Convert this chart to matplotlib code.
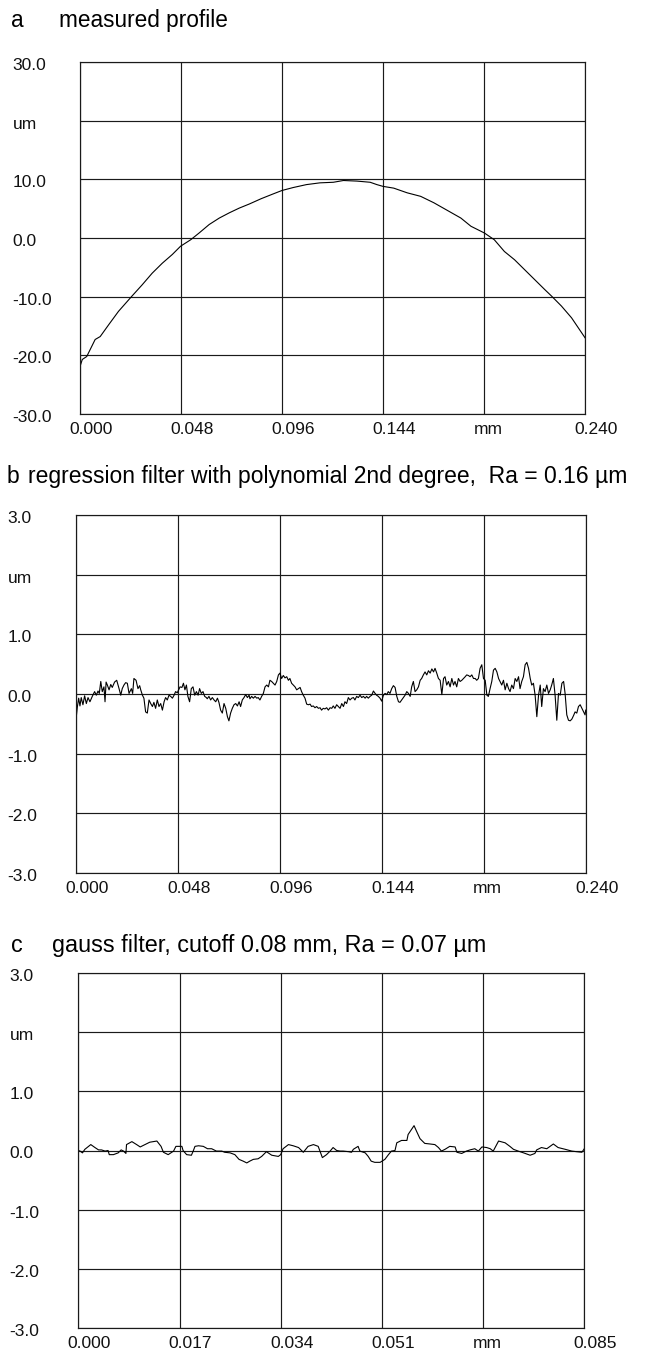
import matplotlib
matplotlib.use("Agg")
import matplotlib.pyplot as plt
from matplotlib.transforms import ScaledTranslation

plt.rcParams["font.family"] = ["Liberation Sans", "DejaVu Sans"]

# (a) measured profile, mm / um
A_X = [0.0000, 0.0011, 0.0032, 0.0072, 0.0096, 0.0136, 0.0183, 0.0247, 0.0295, 0.0343,
       0.0391, 0.0439, 0.0478, 0.0526, 0.0566, 0.0614, 0.0662, 0.0710, 0.0757, 0.0805,
       0.0861, 0.0917, 0.0960, 0.1013, 0.1076, 0.1140, 0.1204, 0.1252, 0.1316, 0.1379,
       0.1411, 0.1440, 0.1491, 0.1555, 0.1619, 0.1682, 0.1746, 0.1810, 0.1858, 0.1922,
       0.1969, 0.2017, 0.2065, 0.2113, 0.2161, 0.2209, 0.2241, 0.2288, 0.2336, 0.2368,
       0.2400]
A_Y = [-21.9, -20.7, -20.2, -17.3, -16.8, -14.8, -12.5, -9.9, -8.0, -6.0,
       -4.3, -2.8, -1.4, -0.3, 0.85, 2.3, 3.4, 4.3, 5.1, 5.8,
       6.7, 7.5, 8.1, 8.6, 9.1, 9.4, 9.5, 9.8, 9.7, 9.5,
       9.1, 8.8, 8.5, 7.7, 7.1, 6.0, 4.7, 3.4, 2.0, 0.85,
       -0.3, -2.3, -3.7, -5.4, -7.1, -8.8, -9.9, -11.6, -13.6, -15.3,
       -17.0]

# (b) regression filter residual, mm / um
B_X = [0.0000, 0.0008, 0.0014, 0.0020, 0.0026, 0.0034, 0.0042, 0.0050, 0.0058, 0.0067,
       0.0078, 0.0089, 0.0097, 0.0105, 0.0111, 0.0118, 0.0125, 0.0133, 0.0138, 0.0143,
       0.0149, 0.0157, 0.0165, 0.0172, 0.0183, 0.0193, 0.0204, 0.0212, 0.0219, 0.0227,
       0.0235, 0.0243, 0.0251, 0.0262, 0.0268, 0.0274, 0.0284, 0.0293, 0.0301, 0.0306,
       0.0314, 0.0321, 0.0329, 0.0337, 0.0345, 0.0353, 0.0361, 0.0368, 0.0376, 0.0384,
       0.0392, 0.0400, 0.0408, 0.0416, 0.0423, 0.0431, 0.0439, 0.0447, 0.0455, 0.0463,
       0.0470, 0.0478, 0.0491, 0.0500, 0.0507, 0.0514, 0.0521, 0.0528, 0.0536, 0.0544,
       0.0552, 0.0560, 0.0568, 0.0576, 0.0583, 0.0591, 0.0599, 0.0607, 0.0615, 0.0619,
       0.0627, 0.0635, 0.0643, 0.0651, 0.0659, 0.0667, 0.0674, 0.0682, 0.0690, 0.0698,
       0.0706, 0.0714, 0.0721, 0.0729, 0.0737, 0.0745, 0.0753, 0.0761, 0.0769, 0.0776,
       0.0784, 0.0792, 0.0800, 0.0808, 0.0816, 0.0820, 0.0828, 0.0836, 0.0844, 0.0852,
       0.0859, 0.0867, 0.0875, 0.0883, 0.0891, 0.0899, 0.0907, 0.0914, 0.0922, 0.0930,
       0.0938, 0.0946, 0.0954, 0.0961, 0.0969, 0.0977, 0.0985, 0.0993, 0.1001, 0.1008,
       0.1016, 0.1024, 0.1032, 0.1040, 0.1048, 0.1056, 0.1063, 0.1071, 0.1079, 0.1087,
       0.1095, 0.1103, 0.1110, 0.1118, 0.1126, 0.1134, 0.1142, 0.1150, 0.1157, 0.1165,
       0.1173, 0.1181, 0.1189, 0.1197, 0.1205, 0.1212, 0.1220, 0.1228, 0.1236, 0.1244,
       0.1252, 0.1260, 0.1267, 0.1275, 0.1283, 0.1291, 0.1299, 0.1307, 0.1314, 0.1322,
       0.1330, 0.1338, 0.1346, 0.1354, 0.1362, 0.1369, 0.1377, 0.1385, 0.1393, 0.1401,
       0.1409, 0.1416, 0.1424, 0.1432, 0.1440, 0.1448, 0.1456, 0.1464, 0.1471, 0.1479,
       0.1487, 0.1495, 0.1503, 0.1511, 0.1519, 0.1526, 0.1534, 0.1542, 0.1550, 0.1558,
       0.1566, 0.1574, 0.1581, 0.1589, 0.1597, 0.1605, 0.1613, 0.1621, 0.1628, 0.1636,
       0.1644, 0.1652, 0.1660, 0.1668, 0.1676, 0.1684, 0.1691, 0.1699, 0.1707, 0.1715,
       0.1723, 0.1731, 0.1738, 0.1746, 0.1754, 0.1762, 0.1770, 0.1778, 0.1785, 0.1793,
       0.1801, 0.1809, 0.1817, 0.1825, 0.1833, 0.1840, 0.1848, 0.1856, 0.1864, 0.1872,
       0.1880, 0.1887, 0.1895, 0.1903, 0.1911, 0.1919, 0.1927, 0.1935, 0.1942, 0.1950,
       0.1958, 0.1966, 0.1974, 0.1982, 0.1990, 0.1997, 0.2005, 0.2013, 0.2021, 0.2029,
       0.2037, 0.2044, 0.2052, 0.2060, 0.2068, 0.2076, 0.2084, 0.2091, 0.2099, 0.2107,
       0.2115, 0.2123, 0.2131, 0.2139, 0.2146, 0.2154, 0.2162, 0.2170, 0.2178, 0.2186,
       0.2193, 0.2201, 0.2209, 0.2217, 0.2225, 0.2233, 0.2240, 0.2248, 0.2256, 0.2264,
       0.2272, 0.2280, 0.2288, 0.2296, 0.2303, 0.2311, 0.2319, 0.2327, 0.2335, 0.2343,
       0.2350, 0.2358, 0.2366, 0.2374, 0.2382, 0.2390, 0.2397, 0.2400]
B_Y = [-0.47, -0.21, -0.07, -0.20, -0.06, -0.18, -0.03, -0.16, -0.06, -0.13,
       -0.04, 0.04, -0.02, 0.05, 0.01, 0.21, 0.04, 0.12, -0.13, 0.20,
       0.15, 0.07, 0.16, 0.11, 0.20, 0.23, 0.09, -0.02, 0.09, 0.15,
       0.19, 0.18, 0.01, 0.09, 0.01, 0.26, 0.23, 0.09, 0.14, 0.07,
       -0.02, -0.07, -0.30, -0.32, -0.10, -0.16, -0.21, -0.14, -0.24, -0.10,
       -0.21, -0.16, -0.27, -0.13, -0.06, -0.10, -0.02, -0.04, -0.07, -0.02,
       0.04, 0.02, 0.12, 0.11, 0.18, 0.07, 0.15, -0.04, -0.13, 0.09,
       0.12, -0.02, 0.04, -0.02, 0.09, 0.01, 0.04, -0.04, -0.06, -0.08,
       -0.04, -0.10, -0.06, -0.10, -0.13, -0.07, -0.14, -0.27, -0.32, -0.16,
       -0.24, -0.38, -0.45, -0.32, -0.24, -0.18, -0.16, -0.20, -0.13, -0.21,
       -0.10, -0.06, -0.01, -0.06, -0.02, -0.08, -0.04, -0.07, -0.04, -0.07,
       -0.06, -0.10, -0.04, 0.01, 0.12, 0.15, 0.12, 0.23, 0.21, 0.18,
       0.15, 0.21, 0.32, 0.35, 0.26, 0.31, 0.27, 0.29, 0.23, 0.26,
       0.18, 0.15, 0.12, 0.07, 0.09, 0.11, 0.04, -0.02, -0.07, -0.17,
       -0.18, -0.17, -0.21, -0.20, -0.23, -0.21, -0.24, -0.23, -0.27, -0.24,
       -0.25, -0.23, -0.27, -0.23, -0.24, -0.20, -0.24, -0.18, -0.21, -0.24,
       -0.16, -0.21, -0.13, -0.16, -0.06, -0.10, -0.07, -0.06, -0.10, -0.04,
       -0.06, -0.02, -0.06, -0.04, -0.07, -0.04, -0.07, -0.04, -0.02, 0.05,
       0.01, -0.02, -0.04, -0.07, -0.12, -0.02, 0.01, -0.01, 0.04, 0.01,
       0.09, 0.14, 0.11, -0.04, -0.13, -0.14, -0.10, -0.06, -0.02, 0.04,
       0.01, -0.04, 0.12, 0.21, 0.04, 0.07, 0.12, 0.23, 0.26, 0.32,
       0.37, 0.32, 0.39, 0.35, 0.42, 0.37, 0.43, 0.35, 0.26, 0.23,
       -0.01, 0.26, 0.29, 0.15, 0.21, 0.12, 0.26, 0.15, 0.21, 0.12,
       0.26, 0.21, 0.23, 0.26, 0.29, 0.32, 0.31, 0.29, 0.32, 0.26,
       0.26, 0.23, 0.26, 0.43, 0.49, 0.26, 0.23, -0.02, -0.04, 0.09,
       0.21, 0.40, 0.43, 0.37, 0.26, 0.21, 0.15, 0.23, 0.07, 0.18,
       0.09, 0.04, 0.15, 0.09, 0.26, 0.21, 0.29, 0.09, 0.21, 0.29,
       0.49, 0.53, 0.43, 0.26, 0.15, 0.18, -0.02, -0.38, -0.02, 0.15,
       -0.21, 0.09, 0.04, 0.15, 0.01, 0.07, 0.15, 0.26, -0.02, -0.44,
       0.01, -0.02, 0.18, 0.21, 0.01, -0.35, -0.44, -0.45, -0.42, -0.36,
       -0.30, -0.32, -0.21, -0.18, -0.24, -0.30, -0.35, -0.27]

# (c) gauss filter residual, mm / um
C_X = [0.0000, 0.0003, 0.0007, 0.0011, 0.0021, 0.0028, 0.0034, 0.0039, 0.0045, 0.0050,
       0.0052, 0.0059, 0.0067, 0.0072, 0.0076, 0.0080, 0.0081, 0.0090, 0.0098, 0.0104,
       0.0112, 0.0120, 0.0132, 0.0139, 0.0143, 0.0151, 0.0160, 0.0164, 0.0174, 0.0176,
       0.0182, 0.0190, 0.0193, 0.0196, 0.0202, 0.0210, 0.0217, 0.0224, 0.0232, 0.0241,
       0.0246, 0.0255, 0.0263, 0.0270, 0.0277, 0.0283, 0.0288, 0.0294, 0.0302, 0.0308,
       0.0316, 0.0325, 0.0336, 0.0340, 0.0344, 0.0353, 0.0361, 0.0370, 0.0378, 0.0386,
       0.0395, 0.0403, 0.0410, 0.0417, 0.0423, 0.0428, 0.0434, 0.0440, 0.0445, 0.0454,
       0.0459, 0.0462, 0.0470, 0.0473, 0.0482, 0.0487, 0.0492, 0.0498, 0.0507, 0.0515,
       0.0521, 0.0526, 0.0532, 0.0535, 0.0543, 0.0552, 0.0554, 0.0564, 0.0568, 0.0574,
       0.0582, 0.0591, 0.0599, 0.0605, 0.0610, 0.0616, 0.0624, 0.0633, 0.0636, 0.0644,
       0.0652, 0.0658, 0.0666, 0.0672, 0.0678, 0.0686, 0.0692, 0.0697, 0.0706, 0.0717,
       0.0725, 0.0731, 0.0739, 0.0748, 0.0759, 0.0767, 0.0770, 0.0778, 0.0787, 0.0798,
       0.0806, 0.0818, 0.0829, 0.0837, 0.0846, 0.0850]
C_Y = [0.00, -0.01, -0.04, 0.02, 0.10, 0.05, 0.01, 0.01, -0.01, 0.00,
       -0.07, -0.07, -0.04, 0.01, -0.01, -0.05, 0.10, 0.15, 0.10, 0.06,
       0.10, 0.14, 0.16, 0.07, -0.03, -0.07, -0.01, 0.07, 0.07, 0.00,
       -0.07, -0.08, -0.01, 0.07, 0.08, 0.07, 0.03, 0.03, -0.01, -0.01,
       -0.03, -0.04, -0.07, -0.15, -0.18, -0.21, -0.18, -0.15, -0.14, -0.10,
       -0.02, -0.08, -0.10, -0.07, 0.03, 0.10, 0.08, 0.05, -0.03, 0.07,
       0.10, 0.07, -0.12, -0.07, -0.01, 0.05, 0.00, -0.01, -0.01, -0.02,
       -0.03, 0.02, 0.07, -0.01, -0.04, -0.10, -0.18, -0.20, -0.20, -0.15,
       -0.07, -0.01, 0.00, 0.13, 0.17, 0.17, 0.27, 0.42, 0.33, 0.20,
       0.12, 0.11, 0.10, 0.05, -0.01, 0.02, 0.07, 0.06, -0.03, -0.05,
       -0.01, 0.01, 0.03, -0.01, 0.06, 0.05, 0.03, -0.01, 0.16, 0.13,
       0.07, 0.02, -0.01, -0.04, -0.08, -0.05, 0.01, 0.05, 0.03, 0.11,
       0.05, 0.02, -0.01, -0.02, -0.03, 0.03]

PANELS = [
    ("a", "measured profile", A_X, A_Y),
    ("b", "regression filter with polynomial 2nd degree,  Ra = 0.16 \u00b5m", B_X, B_Y),
    ("c", "gauss filter, cutoff 0.08 mm, Ra = 0.07 \u00b5m", C_X, C_Y),
]
A_YTICKS = [30, 20, 10, 0, -10, -20, -30]
A_YLABELS = ["30.0", "um", "10.0", "0.0", "-10.0", "-20.0", "-30.0"]
BC_YTICKS = [3, 2, 1, 0, -1, -2, -3]
BC_YLABELS = ["3.0", "um", "1.0", "0.0", "-1.0", "-2.0", "-3.0"]
AB_XTICKS = [0.0, 0.048, 0.096, 0.144, 0.192, 0.240]
AB_XLABELS = ["0.000", "0.048", "0.096", "0.144", "mm", "0.240"]
C_XTICKS = [0.0, 0.017, 0.034, 0.051, 0.068, 0.085]
C_XLABELS = ["0.000", "0.017", "0.034", "0.051", "mm", "0.085"]

W, H = 645, 1353
fig = plt.figure(figsize=(W / 100, H / 100), dpi=100)

# pixel boxes: left, right, top, bottom
boxes = [(80, 585, 62, 414), (75.7, 585.7, 515, 873), (78.3, 584.3, 973, 1328)]
title_base = [27, 483, 952]
letter_x = [11.0, 7.0, 10.5]
title_x = [59.3, 27.5, 51.7]
title_fs = [16.3, 16.5, 16.8]
ylab_left = [12.5, 7.5, 9.5]
yticks = [A_YTICKS, BC_YTICKS, BC_YTICKS]
ylabels = [A_YLABELS, BC_YLABELS, BC_YLABELS]
xticks = [AB_XTICKS, AB_XTICKS, C_XTICKS]
xlabels = [AB_XLABELS, AB_XLABELS, C_XLABELS]

for i, (letter, title, xs, ys) in enumerate(PANELS):
    l, r, t, b = boxes[i]
    ax = fig.add_axes([l / W, 1 - b / H, (r - l) / W, (b - t) / H])
    ax.plot(xs, ys, color="black", lw=0.8)
    ax.set_xlim(xticks[i][0], xticks[i][-1])
    ax.set_ylim(yticks[i][-1], yticks[i][0])
    ax.set_xticks(xticks[i], xlabels[i])
    ax.set_yticks(yticks[i], ylabels[i])
    ax.grid(True, color="#1a1a1a", lw=0.85)
    for s in ax.spines.values():
        s.set_color("#1a1a1a")
        s.set_linewidth(0.85)
    ax.tick_params(length=0, labelsize=12.5, colors="#111111")
    ax.tick_params(axis="y", pad=(l - ylab_left[i]) * 0.72)
    ax.tick_params(axis="x", pad=5.5)
    for lbl in ax.get_yticklabels():
        lbl.set_horizontalalignment("left")
        lbl.set_transform(lbl.get_transform() + ScaledTranslation(0, -2 / 100, fig.dpi_scale_trans))
    for lbl in ax.get_xticklabels():
        dx = 4 if lbl.get_text() == "mm" else 11
        lbl.set_transform(lbl.get_transform() + ScaledTranslation(dx / 100, 0, fig.dpi_scale_trans))

    fig.text(letter_x[i] / W, 1 - title_base[i] / H, letter, fontsize=title_fs[i], va="baseline", ha="left")
    fig.text(title_x[i] / W, 1 - title_base[i] / H, title, fontsize=title_fs[i], va="baseline", ha="left")

fig.savefig("out.png", dpi=100)
